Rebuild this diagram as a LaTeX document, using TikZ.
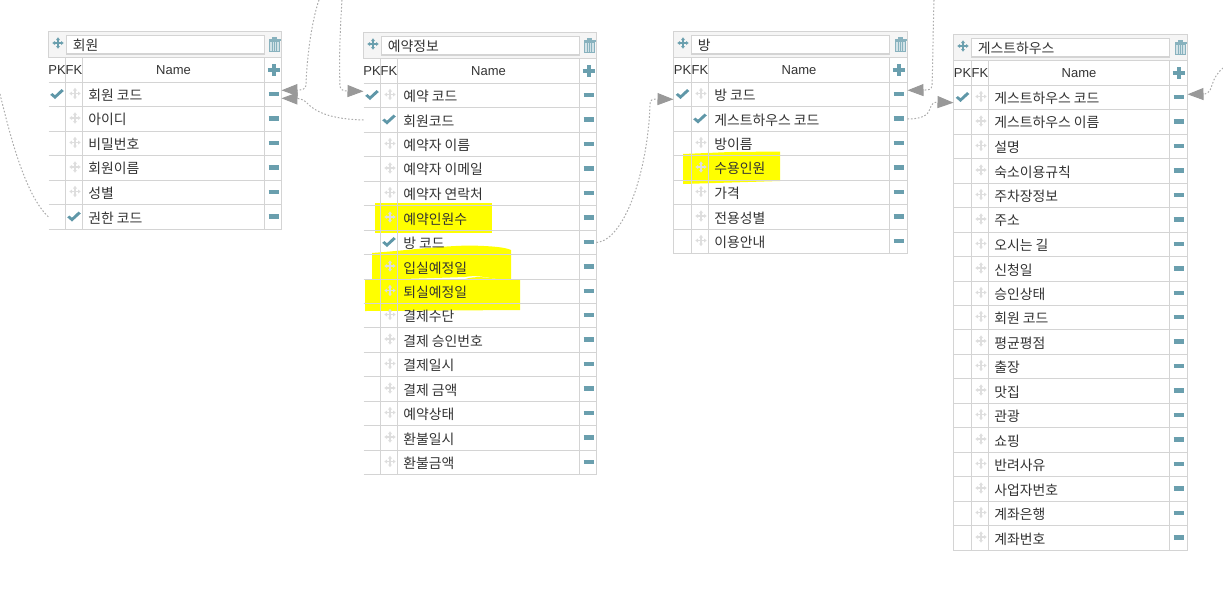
\documentclass[tikz,border=0pt]{standalone}
\usepackage{fontspec}
\setmainfont{Liberation Sans}
\newfontfamily\krfont{Noto Sans CJK KR}
\usetikzlibrary{arrows.meta}
\definecolor{gridc}{HTML}{D4D4D4}
\definecolor{teal}{HTML}{6A9FAE}
\definecolor{chk}{HTML}{5F97A8}
\definecolor{mvc}{HTML}{DEDEDE}
\definecolor{headbg}{HTML}{F5F5F5}
\definecolor{txt}{HTML}{333333}
\definecolor{arr}{HTML}{999999}
\definecolor{connc}{HTML}{ABABAB}
\definecolor{hl}{HTML}{FFFF00}
\tikzset{
  gridline/.style={draw=gridc,line width=0.75pt},
  rowbox/.style={inner sep=0pt,outer sep=0pt,rectangle},
  rowtext/.style={font=\krfont\fontsize{10.4pt}{12pt}\selectfont,text=txt,anchor=west,inner sep=0pt},
  hdtext/.style={font=\fontsize{9.75pt}{11pt}\selectfont,text=txt,inner sep=0pt},
  titletext/.style={font=\krfont\fontsize{10.4pt}{12pt}\selectfont,text=txt,anchor=west,inner sep=0pt},
  inputbox/.style={draw=gridc,line width=1pt,fill=white},
  conn/.style={draw=connc,line width=0.75pt,dash pattern=on 1.2pt off 1.4pt,
    -{Triangle[length=12pt,width=9pt,color=arr,fill=arr]}},
  marker/.style={fill=hl,draw=none}
}
% move icon
\newcommand{\mvicon}[3]{%
  \begin{scope}[shift={(#1,#2)}]
    \draw[#3,line width=0.8pt] (-4,0) -- (4,0) (0,-4) -- (0,4);
    \fill[#3] (-5.7,0) -- (-3,-2) -- (-3,2) -- cycle
              (5.7,0) -- (3,-2) -- (3,2) -- cycle
              (0,-5.7) -- (-2,-3) -- (2,-3) -- cycle
              (0,5.7) -- (-2,3) -- (2,3) -- cycle;
  \end{scope}}
% check icon
\newcommand{\chkicon}[2]{%
  \begin{scope}[shift={(#1,#2)}]
    \fill[chk] (-6.8,0.8) -- (-4.6,-0.9) -- (-2,1.2) -- (4.6,-5) -- (6.8,-3) -- (-2,5) -- cycle;
  \end{scope}}
% minus icon
\newcommand{\minusicon}[2]{%
  \draw[teal,line width=3.3pt,line cap=butt] (#1-5,#2) -- (#1+5,#2);}
% plus icon
\newcommand{\plusicon}[2]{%
  \draw[teal,line width=3pt,line cap=butt] (#1-6,#2) -- (#1+6,#2) (#1,#2-6) -- (#1,#2+6);}
% trash icon
\newcommand{\trashicon}[2]{%
  \begin{scope}[shift={(#1,#2)}]
    \draw[teal!80,line width=0.7pt,fill=teal!30] (-4.8,-3.5) rectangle (4.8,7);
    \draw[teal!80,line width=0.6pt] (-2,-3.5) -- (-2,7) (0,-3.5) -- (0,7) (2,-3.5) -- (2,7);
    \fill[teal!80] (-6,-5.5) rectangle (6,-3.5);
    \fill[teal!80] (-2.5,-7.5) rectangle (2.5,-5);
  \end{scope}}
% table: name, x0,x1,x2,x3,x4, top, title, rows
\newcommand{\erdtable}[9]{%
  \fill[headbg] (#2,#7-0.5) rectangle (#6,#7+25.5);
  \draw[gridline] (#2,#7+25.5) -- (#2,#7-0.5) -- (#6,#7-0.5) -- (#6,#7+25.5);
  \draw[inputbox] (#2+18,#7+3.5) rectangle (#5,#7+22);
  \node[titletext] (#1-title) at (#2+24,#7+13) {#8};
  \mvicon{#2+9.5}{#7+11}{teal}
  \trashicon{#6-6.8}{#7+12.5}
  \draw[gridline] (#2,#7+25.5) -- (#6,#7+25.5);
  \draw[gridline] (#2,#7+50.5) -- (#6,#7+50.5);
  \draw[gridline] (#3,#7+25.5) -- (#3,#7+50.5) (#4,#7+25.5) -- (#4,#7+50.5) (#5,#7+25.5) -- (#5,#7+50.5) (#6,#7+25.5) -- (#6,#7+50.5);
  \ifnum\leftln=1 \draw[gridline] (#2,#7+25.5) -- (#2,#7+50.5); \fi
  \node[hdtext] (#1-pk) at ({(#2+#3)/2},#7+38) {PK};
  \node[hdtext] (#1-fk) at ({(#3+#4)/2},#7+38) {FK};
  \node[hdtext] (#1-name) at ({(#4+#5)/2},#7+38) {Name};
  \plusicon{#5+9}{#7+38}
  \foreach \txtv/\kv [count=\i] in {#9}{%
    \pgfmathsetmacro{\yb}{floor(#7+50.5+\i*\rh)+0.5}
    \pgfmathsetmacro{\yt}{floor(#7+50.5+(\i-1)*\rh)+0.5}
    \pgfmathsetmacro{\yc}{(\yt+\yb)/2}
    \node[rowbox,minimum width={(#6-#2)*0.75pt},minimum height={\rh*0.75pt}] (#1-\i) at ({(#2+#6)/2},\yc) {};
    \node[rowtext] (#1-t\i) at (#4+5.5,\yc+0.8) {\txtv};
    \draw[gridline] (#2,\yb) -- (#6,\yb);
    \draw[gridline] (#3,\yt) -- (#3,\yb) (#4,\yt) -- (#4,\yb) (#5,\yt) -- (#5,\yb) (#6,\yt) -- (#6,\yb);
    \ifnum\leftln=1 \draw[gridline] (#2,\yt) -- (#2,\yb); \fi
    \minusicon{#5+9}{\yc-0.5}
    \if\kv p
      \chkicon{{(#2+#3)/2}}{\yc-0.5}
      \mvicon{{(#3+#4)/2+1}}{\yc-1}{mvc}
    \else\if\kv f
      \chkicon{{(#3+#4)/2}}{\yc-0.5}
    \else
      \mvicon{{(#3+#4)/2+1}}{\yc-1}{mvc}
    \fi\fi
  }%
}
\begin{document}
\begin{tikzpicture}[x=0.75pt,y=-0.75pt]
\useasboundingbox (0,0) rectangle (1223,608);
% highlighter marks
\fill[marker] (375,203) rectangle (492,233);
\fill[marker] (372,280) -- (372,253) .. controls (410,250) and (440,246) .. (470,245.5) .. controls (490,246) and (505,247) .. (511,250) -- (511,280) -- (497,279) .. controls (485,277) and (475,275) .. (465,277) -- cycle;
\fill[marker] (365,279) -- (465,279) .. controls (475,276) and (485,277) .. (497,279) -- (520,280) -- (520,310) -- (365,311) -- cycle;
\fill[marker] (683,154) -- (730,152) -- (780,151.5) -- (780,181) -- (683,184) -- cycle;

\def\rh{24.45}\def\leftln{0}
\erdtable{mem}{48.5}{65.5}{82.5}{264.5}{281.5}{32}{회원}{회원 코드/p,아이디/n,비밀번호/n,회원이름/n,성별/n,권한 코드/f}
\erdtable{res}{363.5}{380.5}{397.5}{579.5}{596.5}{33}{예약정보}{예약 코드/p,회원코드/f,예약자 이름/n,예약자 이메일/n,예약자 연락처/n,예약인원수/n,방 코드/f,입실예정일/n,퇴실예정일/n,결제수단/n,결제 승인번호/n,결제일시/n,결제 금액/n,예약상태/n,환불일시/n,환불금액/n}
\def\leftln{1}
\erdtable{room}{673.5}{691.5}{708.5}{889.5}{907.5}{32}{방}{방 코드/p,게스트하우스 코드/f,방이름/n,수용인원/n,가격/n,전용성별/n,이용안내/n}
\erdtable{gh}{953.5}{971.5}{988.5}{1169.5}{1187.5}{35}{게스트하우스}{게스트하우스 코드/p,게스트하우스 이름/n,설명/n,숙소이용규칙/n,주차장정보/n,주소/n,오시는 길/n,신청일/n,승인상태/n,회원 코드/n,평균평점/n,출장/n,맛집/n,관광/n,쇼핑/n,반려사유/n,사업자번호/n,계좌은행/n,계좌번호/n}

% free ends
\coordinate (top1) at (319,0);
\coordinate (top2) at (342,0);
\coordinate (top3) at (934,0);
\coordinate (side1) at (0,94);
\coordinate (side2) at (1223,68);

\draw[conn] (top1) .. controls (312,20) and (307,55) .. (306,85) .. controls (306,89) and (302,90) .. ([yshift=3.15pt]mem-1.east);
\draw[conn] (res-2.west) .. controls (330,119) and (315,112) .. (306,102) .. controls (303,99) and (298,98.5) .. ([yshift=-2.85pt]mem-1.east);
\draw[conn] (top2) .. controls (340,30) and (339,60) .. (340,86) .. controls (340,90) and (344,91) .. ([yshift=3.15pt]res-1.west);
\draw[conn,-] (side1) .. controls (10,135) and (25,195) .. (mem-6.west);
\draw[conn] (res-7.east) .. controls (625,240) and (648,170) .. (650,104) .. controls (650,100) and (652,99) .. ([yshift=-3.6pt]room-1.west);
\draw[conn] (top3) .. controls (933,30) and (933,60) .. (932,85) .. controls (932,90) and (928,90) .. ([yshift=3.15pt]room-1.east);
\draw[conn] (room-2.east) .. controls (920,119) and (928,116) .. (930,109) .. controls (931,103) and (935,102) .. ([yshift=-3.9pt]gh-1.west);
\draw[conn] (side2) .. controls (1218,72) and (1214,78) .. (1212,85) .. controls (1210,93) and (1206,94) .. ([yshift=2.4pt]gh-1.east);
\end{tikzpicture}
\end{document}
